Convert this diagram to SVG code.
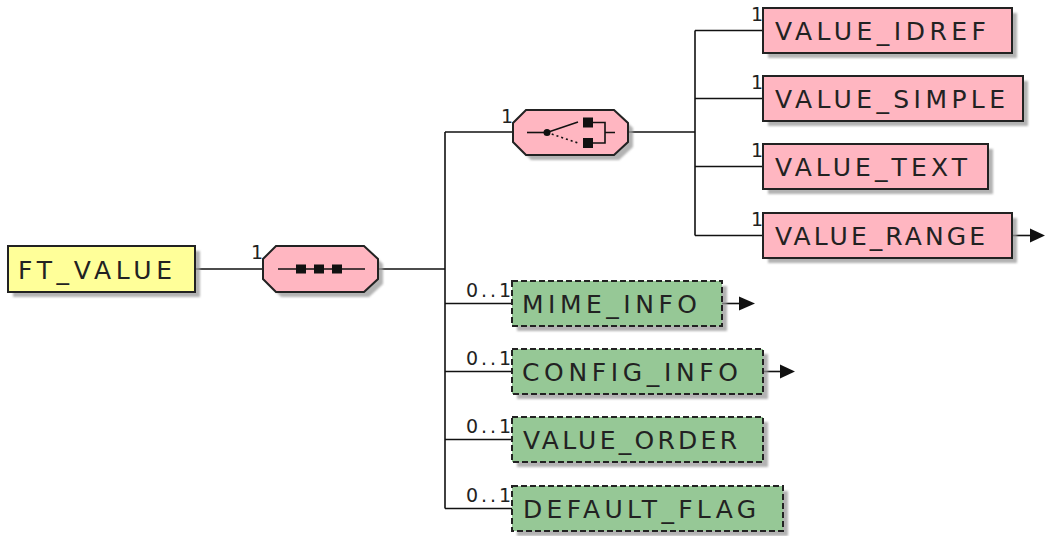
<svg xmlns="http://www.w3.org/2000/svg" width="1046" height="536" viewBox="0 0 1046 536">
<style>
.bg{fill:#ffffff}
.sh{fill:#9a9a9a;opacity:.75}
.yel{fill:#ffff99;stroke:#222;stroke-width:2}
.pink{fill:#ffb6c1;stroke:#222;stroke-width:2}
.green{fill:#96c896;stroke:#222;stroke-width:2;stroke-dasharray:6 3}
.lbl{font-family:"DejaVu Sans",sans-serif;font-size:25px;fill:#222}
.occ{font-family:"DejaVu Sans",sans-serif;font-size:19px;fill:#222}
.ln{stroke:#111;stroke-width:1.6;fill:none}
.icon{stroke:#111;stroke-width:1.6;fill:none}
.sq{fill:#111}
.arr{fill:#111}
</style>
<defs>
<filter id="blur" x="-10%" y="-10%" width="130%" height="140%"><feGaussianBlur stdDeviation="1"/></filter>
</defs>
<rect class="bg" x="0" y="0" width="1046" height="536"/>

<g id="connectors">
<path class="ln" d="M195 269H263"/>
<path class="ln" d="M378 269H445"/>
<path class="ln" d="M445 132V508.5"/>
<path class="ln" d="M445 132H513"/>
<path class="ln" d="M445 303.5H512"/>
<path class="ln" d="M445 371.5H512"/>
<path class="ln" d="M445 439.5H512"/>
<path class="ln" d="M445 508.5H512"/>
<path class="ln" d="M628 132H695"/>
<path class="ln" d="M695 30.5V235.5"/>
<path class="ln" d="M695 30.5H763"/>
<path class="ln" d="M695 98.5H763"/>
<path class="ln" d="M695 166.5H763"/>
<path class="ln" d="M695 235.5H763"/>
<path class="ln" d="M1012 235.5H1031"/>
<polygon class="arr" points="1030,228.5 1045,235.5 1030,242.5"/>
<path class="ln" d="M722 303.5H740"/>
<polygon class="arr" points="739,296.5 755,303.5 739,310.5"/>
<path class="ln" d="M763 371.5H781"/>
<polygon class="arr" points="780,364.5 795,371.5 780,378.5"/>
</g>

<g id="FT_VALUE">
<rect class="sh" x="13" y="251" width="187" height="46" filter="url(#blur)"/>
<rect class="yel" x="8" y="246" width="187" height="46"/>
<text class="lbl" x="18" y="279" textLength="154" lengthAdjust="spacing">FT_VALUE</text>
</g>

<g id="sequence">
<polygon class="sh" filter="url(#blur)" points="281,251 369,251 383,264 383,284 369,297 281,297 268,284 268,264"/>
<polygon class="pink" points="276,246 364,246 378,259 378,279 364,292 276,292 263,279 263,259"/>
<text class="occ" x="251" y="259">1</text>
<path class="icon" d="M278 269H365"/>
<rect class="sq" x="296" y="264.5" width="10" height="9"/>
<rect class="sq" x="314" y="264.5" width="10" height="9"/>
<rect class="sq" x="332" y="264.5" width="10" height="9"/>
</g>

<g id="choice">
<polygon class="sh" filter="url(#blur)" points="531,115 619,115 633,128 633,147 619,160 531,160 518,147 518,128"/>
<polygon class="pink" points="526,110 614,110 628,123 628,142 614,155 526,155 513,142 513,123"/>
<text class="occ" x="501" y="123">1</text>
<path class="icon" d="M527 132.5H547"/>
<circle cx="547" cy="132.5" r="3.5" class="sq"/>
<path class="icon" d="M547 132.5L578 122"/>
<path class="icon" d="M547 132.5L578 143" stroke-dasharray="2 3"/>
<rect class="sq" x="583" y="117.5" width="10" height="10"/>
<rect class="sq" x="583" y="138" width="10" height="10"/>
<path class="icon" d="M593 122.5H605V143H593M605 132.5H615"/>
</g>

<g id="VALUE_IDREF">
<rect class="sh" x="768" y="13" width="249" height="45" filter="url(#blur)"/>
<rect class="pink" x="763" y="8" width="249" height="45"/>
<text class="occ" x="751" y="21">1</text>
<text class="lbl" x="775" y="39.5" textLength="211" lengthAdjust="spacing">VALUE_IDREF</text>
</g>

<g id="VALUE_SIMPLE">
<rect class="sh" x="768" y="81" width="260" height="45" filter="url(#blur)"/>
<rect class="pink" x="763" y="76" width="260" height="45"/>
<text class="occ" x="751" y="89">1</text>
<text class="lbl" x="775" y="107.5" textLength="230" lengthAdjust="spacing">VALUE_SIMPLE</text>
</g>

<g id="VALUE_TEXT">
<rect class="sh" x="768" y="149" width="225" height="45" filter="url(#blur)"/>
<rect class="pink" x="763" y="144" width="225" height="45"/>
<text class="occ" x="751" y="157">1</text>
<text class="lbl" x="775" y="175.5" textLength="192" lengthAdjust="spacing">VALUE_TEXT</text>
</g>

<g id="VALUE_RANGE">
<rect class="sh" x="768" y="218" width="249" height="45" filter="url(#blur)"/>
<rect class="pink" x="763" y="213" width="249" height="45"/>
<text class="occ" x="751" y="226">1</text>
<text class="lbl" x="775" y="244.5" textLength="210" lengthAdjust="spacing">VALUE_RANGE</text>
</g>

<g id="MIME_INFO">
<rect class="sh" x="517" y="286" width="210" height="45" filter="url(#blur)"/>
<rect class="green" x="512" y="281" width="210" height="45"/>
<text class="occ" x="466" y="297" textLength="45" lengthAdjust="spacing">0..1</text>
<text class="lbl" x="522" y="312.5" textLength="175" lengthAdjust="spacing">MIME_INFO</text>
</g>

<g id="CONFIG_INFO">
<rect class="sh" x="517" y="354" width="251" height="45" filter="url(#blur)"/>
<rect class="green" x="512" y="349" width="251" height="45"/>
<text class="occ" x="466" y="365" textLength="45" lengthAdjust="spacing">0..1</text>
<text class="lbl" x="522" y="380.5" textLength="216" lengthAdjust="spacing">CONFIG_INFO</text>
</g>

<g id="VALUE_ORDER">
<rect class="sh" x="517" y="422" width="251" height="45" filter="url(#blur)"/>
<rect class="green" x="512" y="417" width="251" height="45"/>
<text class="occ" x="466" y="433" textLength="45" lengthAdjust="spacing">0..1</text>
<text class="lbl" x="523" y="448.5" textLength="214" lengthAdjust="spacing">VALUE_ORDER</text>
</g>

<g id="DEFAULT_FLAG">
<rect class="sh" x="517" y="491" width="271" height="45" filter="url(#blur)"/>
<rect class="green" x="512" y="486" width="271" height="45"/>
<text class="occ" x="466" y="502" textLength="45" lengthAdjust="spacing">0..1</text>
<text class="lbl" x="523" y="517.5" textLength="233" lengthAdjust="spacing">DEFAULT_FLAG</text>
</g>
</svg>
